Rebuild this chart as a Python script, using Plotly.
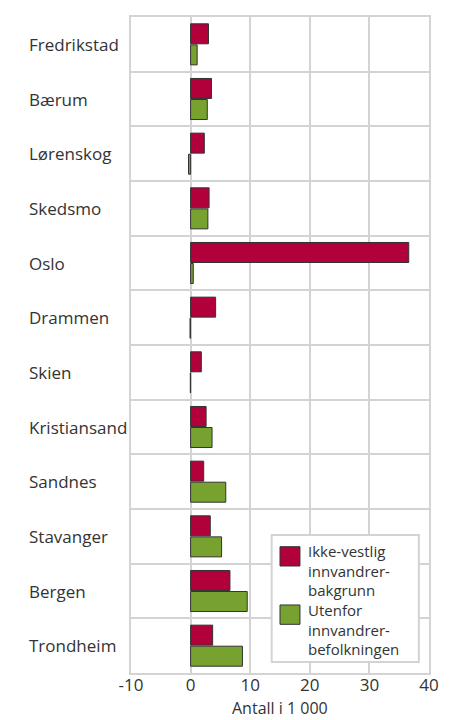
import plotly.graph_objects as go

categories = ["Fredrikstad", "Bærum", "Lørenskog", "Skedsmo", "Oslo", "Drammen",
              "Skien", "Kristiansand", "Sandnes", "Stavanger", "Bergen", "Trondheim"]
ikke_vestlig = [3.0, 3.5, 2.3, 3.1, 36.6, 4.2, 1.8, 2.6, 2.2, 3.3, 6.6, 3.7]
utenfor = [1.1, 2.8, -0.35, 2.9, 0.45, -0.1, -0.05, 3.6, 5.9, 5.2, 9.5, 8.7]
series_names = ["Ikke-vestlig<br>innvandrer-<br>bakgrunn",
                "Utenfor<br>innvandrer-<br>befolkningen"]
x_ticks = [-10, 0, 10, 20, 30, 40]
x_title = "Antall i 1 000"

RED = "#b1003a"
GREEN = "#78a22f"
COLORS = [RED, GREEN]
GRID = "#d3d3d3"
TEXT = "#333333"
FONT = "Open Sans"

fig = go.Figure()
for name, vals, col in zip(series_names, [ikke_vestlig, utenfor], COLORS):
    fig.add_trace(go.Bar(y=categories, x=vals, orientation="h", name=name,
                         showlegend=False,
                         marker=dict(color=col, line=dict(color="#333333", width=1))))

# category labels (left aligned, as in the reference)
for c in categories:
    fig.add_annotation(x=-0.348, xref="paper", y=c, yref="y", text=c, showarrow=False,
                       xanchor="left", yanchor="middle",
                       font=dict(family=FONT, size=17, color=TEXT))

# legend box (layout decoration)
fig.add_shape(type="rect", xref="paper", yref="paper", x0=0.472, x1=0.966,
              y0=0.0168, y1=0.2104, fillcolor="white",
              line=dict(color=GRID, width=2), layer="above")
swatch_y = [(0.1631, 0.1925), (0.0742, 0.1037)]
text_pos = [(0.2020, "top"), (0.0200, "bottom")]
for col, (y0, y1), name, (ty, ya) in zip(COLORS, swatch_y, series_names, text_pos):
    fig.add_shape(type="rect", xref="paper", yref="paper", x0=0.5, x1=0.567,
                  y0=y0, y1=y1, fillcolor=col,
                  line=dict(color="#333333", width=1), layer="above")
    fig.add_annotation(x=0.590, xref="paper", y=ty, yref="paper", text=name,
                       showarrow=False, xanchor="left", yanchor=ya, align="left",
                       borderpad=0, font=dict(family=FONT, size=15, color=TEXT))

# x axis title
fig.add_annotation(x=0.5, xref="paper", y=-0.0713, yref="paper", text=x_title,
                   showarrow=False, xanchor="center", yanchor="bottom", borderpad=0,
                   font=dict(family=FONT, size=16, color=TEXT))

fig.update_layout(
    width=445, height=712,
    margin=dict(l=123, r=24, t=9, b=47, autoexpand=False),
    paper_bgcolor="white", plot_bgcolor="white",
    barmode="group", bargap=0.23, bargroupgap=0.05,
    font=dict(family=FONT, size=17, color=TEXT),
    showlegend=False,
)
fig.update_xaxes(range=[-10, 40], tickvals=x_ticks, ticktext=[str(v) for v in x_ticks],
                 showgrid=True, gridcolor=GRID, gridwidth=2, zeroline=False,
                 showline=True, mirror=True, linecolor=GRID, linewidth=2,
                 ticks="", ticklabelstandoff=-4, automargin=False,
                 tickfont=dict(family=FONT, size=17, color=TEXT))
fig.update_yaxes(type="category", autorange="reversed", tickson="boundaries",
                 showgrid=True, gridcolor=GRID, gridwidth=2,
                 showline=True, mirror=True, linecolor=GRID, linewidth=2,
                 showticklabels=False, ticks="")

fig.write_html("out.html")
